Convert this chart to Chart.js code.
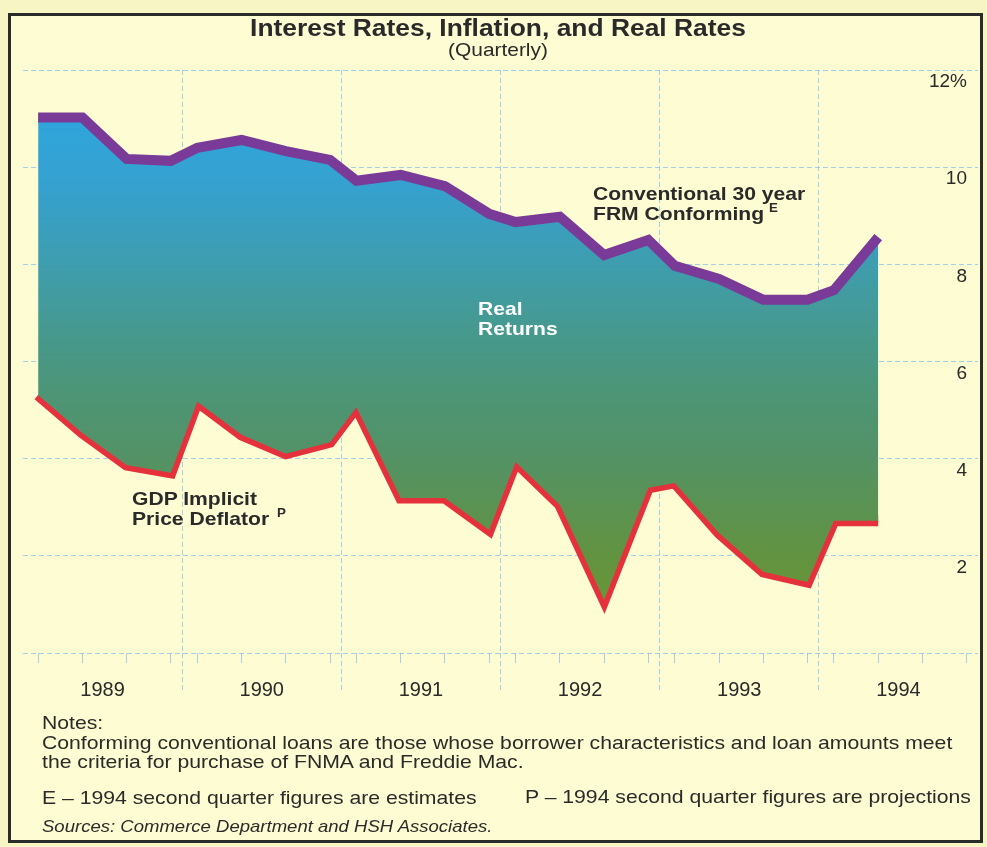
<!DOCTYPE html>
<html lang="en">
<head>
<meta charset="utf-8">
<title>Interest Rates, Inflation, and Real Rates</title>
<script src="https://cdn.jsdelivr.net/npm/chart.js@4.4.1/dist/chart.umd.min.js"></script>
<style>
    html, body { margin: 0; padding: 0; }
    body {
        position: relative;
        width: 987px;
        height: 847px;
        overflow: hidden;
        background: #f7f5c3;
        font-family: "Liberation Sans", Arial, Helvetica, sans-serif;
        color: #2a2a2a;
    }
    #frame {
        position: absolute; left: 8px; top: 13px;
        width: 969px; height: 824px;
        border: 3px solid #2b2b29;
        background: #fdfcd2;
    }
    #chart { position: absolute; left: 0; top: 0; }
    /* the scan is a little wider than the type, so text gets stretched a bit */
    .t { position: absolute; white-space: nowrap; line-height: 1; transform-origin: 0 0; transform: scaleX(1.11); }
    .center { left: 0; width: 996px; text-align: center; transform-origin: 498px 0; transform: scaleX(1.1); }
    .lbl { font-size: 19px; font-weight: bold; }
    .sup { font-size: 12px; font-weight: bold; }
    .note { font-size: 19px; transform: scaleX(1.115); }
</style>
</head>
<body>
<div id="frame"></div>
<canvas id="chart" width="987" height="847"></canvas>

<div class="t center" style="top:16px; font-size:24px; font-weight:bold;">Interest Rates, Inflation, and Real Rates</div>
<div class="t center" style="top:40px; font-size:19px;">(Quarterly)</div>

<div class="t lbl" style="left:593px; top:184px;">Conventional 30 year</div>
<div class="t lbl" style="left:593px; top:204px;">FRM Conforming</div>
<div class="t sup" style="left:769px; top:202px;">E</div>

<div class="t lbl" style="left:478px; top:299px; color:#fff;">Real</div>
<div class="t lbl" style="left:478px; top:319px; color:#fff;">Returns</div>

<div class="t lbl" style="left:132px; top:489px;">GDP Implicit</div>
<div class="t lbl" style="left:132px; top:509px;">Price Deflator</div>
<div class="t sup" style="left:277px; top:507px;">P</div>

<div class="t note" style="left:42px; top:713px;">Notes:</div>
<div class="t note" style="left:42px; top:733px;">Conforming conventional loans are those whose borrower characteristics and loan amounts meet</div>
<div class="t note" style="left:42px; top:752px;">the criteria for purchase of FNMA and Freddie Mac.</div>
<div class="t note" style="left:42px; top:788px;">E – 1994 second quarter figures are estimates</div>
<div class="t note" style="left:525px; top:787px;">P – 1994 second quarter figures are projections</div>
<div class="t" style="left:42px; top:818px; font-size:17px; font-style:italic; transform:scaleX(1.09);">Sources: Commerce Department and HSH Associates.</div>

<script>
// Quarterly readings, 1989 Q1 through 1994 Q2 (percent)
const quarters = [
    '1989 Q1', '1989 Q2', '1989 Q3', '1989 Q4',
    '1990 Q1', '1990 Q2', '1990 Q3', '1990 Q4',
    '1991 Q1', '1991 Q2', '1991 Q3', '1991 Q4',
    '1992 Q1', '1992 Q2', '1992 Q3', '1992 Q4',
    '1993 Q1', '1993 Q2', '1993 Q3', '1993 Q4',
    '1994 Q1', '1994 Q2'
];
const mortgageRate = [
    11.02, 11.02, 10.17, 10.13,
    10.40, 10.56, 10.33, 10.15,
    9.72, 9.84, 9.61, 9.04,
    8.87, 8.98, 8.19, 8.50,
    7.97, 7.70, 7.27, 7.27,
    7.47, 8.56
];
const gdpDeflator = [
    5.31, 4.53, 3.87, 3.71,
    5.17, 4.49, 4.10, 4.34,
    5.06, 3.19, 3.19, 2.53,
    3.93, 3.05, 1.09, 3.40,
    3.50, 2.47, 1.67, 1.46,
    2.72, 2.72
];
const years = [1989, 1990, 1991, 1992, 1993, 1994];
const yTicks = [0, 2, 4, 6, 8, 10, 12];

const GRID = 'rgba(150, 198, 232, 0.85)';
const INK = '#2a2a2a';

// quarter marks sit inside each year band: a small gap at the year start, then even steps
const Q_START = 0.095;
const Q_STEP = 0.278;
function quarterX(label) {
    const [yr, q] = label.split(' Q');
    return Number(yr) + Q_START + (Number(q) - 1) * Q_STEP;
}
const quarterTicks = years.flatMap(yr => [1, 2, 3, 4].map(q => quarterX(`${yr} Q${q}`)));

function realReturnsFill(context) {
    const chart = context.chart;
    if (!chart.chartArea) return 'rgba(0,0,0,0)';
    const yScale = chart.scales.y;
    const top = yScale.getPixelForValue(11);
    const bottom = yScale.getPixelForValue(1);
    const g = chart.ctx.createLinearGradient(0, top, 0, bottom);
    g.addColorStop(0, '#2fa5dc');
    g.addColorStop(0.14, '#36a1cf');
    g.addColorStop(0.30, '#3e9dae');
    g.addColorStop(0.44, '#46998e');
    g.addColorStop(0.56, '#4c9577');
    g.addColorStop(0.70, '#549265');
    g.addColorStop(0.91, '#63933f');
    g.addColorStop(1, '#68963a');
    return g;
}

const toPoints = values => quarters.map((q, i) => ({ x: quarterX(q), y: values[i] }));

new Chart(document.getElementById('chart'), {
    type: 'line',
    data: {
        datasets: [
            {
                label: 'Conventional 30 year FRM Conforming',
                data: toPoints(mortgageRate),
                borderColor: '#7a3a98',
                borderWidth: 10,
                backgroundColor: realReturnsFill,
                fill: '+1',
                pointRadius: 0,
                borderJoinStyle: 'miter',
                tension: 0
            },
            {
                label: 'GDP Implicit Price Deflator',
                data: toPoints(gdpDeflator),
                borderColor: '#e4313c',
                borderWidth: 11,
                fill: false,
                pointRadius: 0,
                borderJoinStyle: 'miter',
                tension: 0
            }
        ]
    },
    options: {
        responsive: false,
        devicePixelRatio: 1,
        animation: false,
        layout: { padding: { left: 23, right: 9, top: 70, bottom: 194 } },
        plugins: {
            legend: { display: false },
            tooltip: { enabled: false }
        },
        scales: {
            x: {
                type: 'linear',
                axis: 'x',
                position: { y: 0 },
                min: 1989,
                max: 1995,
                bounds: 'data',
                z: 1,
                afterBuildTicks: scale => {
                    scale.ticks = years.map(yr => ({ value: yr + 0.5 }));
                },
                grid: {
                    offset: true,
                    color: ctx => (ctx.index > 0 && ctx.index < years.length) ? GRID : 'rgba(0,0,0,0)',
                    tickLength: 40,
                    tickBorderDash: [5, 3]
                },
                border: { display: false, dash: [5, 3] },
                ticks: {
                    autoSkip: false,
                    maxRotation: 0,
                    padding: -15,
                    color: INK,
                    font: { size: 20, family: '"Liberation Sans", Arial, sans-serif' },
                    callback: v => String(Math.floor(v))
                }
            },
            xq: {
                type: 'linear',
                axis: 'x',
                position: { y: 0 },
                min: 1989,
                max: 1995,
                bounds: 'data',
                afterBuildTicks: scale => {
                    scale.ticks = quarterTicks.map(v => ({ value: v }));
                },
                grid: { drawOnChartArea: false, tickLength: 10, color: GRID },
                border: { display: false },
                ticks: { display: false }
            },
            y: {
                type: 'linear',
                position: 'right',
                min: 0,
                max: 12,
                z: 1,
                afterBuildTicks: scale => {
                    scale.ticks = yTicks.map(v => ({ value: v }));
                },
                grid: { color: GRID, drawTicks: false },
                border: { display: false, dash: [5, 3] },
                ticks: {
                    mirror: true,
                    padding: -11,
                    labelOffset: 12,
                    color: INK,
                    font: { size: 19, family: '"Liberation Sans", Arial, sans-serif' },
                    callback: v => v === 0 ? '' : (v === 12 ? '12%' : String(v))
                }
            }
        }
    }
});
</script>
</body>
</html>
